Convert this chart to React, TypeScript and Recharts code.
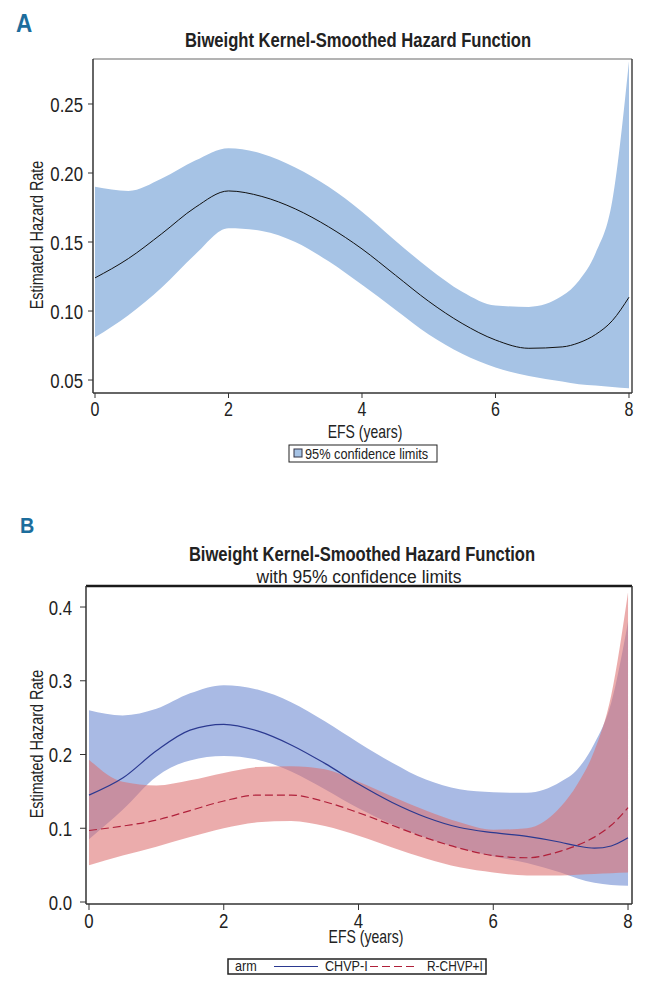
import React from 'react';
import { ComposedChart, Area, Line, XAxis, YAxis, ReferenceLine } from 'recharts';

// EFS (years) grid
const years = [0, 0.5, 1, 1.5, 2, 2.5, 3, 3.5, 4, 4.5, 5, 5.5, 6, 6.5, 7, 7.25, 7.5, 7.75, 8];

// Panel A: overall hazard with 95% CI
const hazardA = [0.124, 0.138, 0.156, 0.175, 0.187, 0.183, 0.174, 0.161, 0.145, 0.126, 0.107, 0.091, 0.079, 0.073, 0.074, 0.077, 0.083, 0.093, 0.110];
const lowerA = [0.081, 0.097, 0.117, 0.141, 0.160, 0.158, 0.150, 0.136, 0.119, 0.101, 0.083, 0.069, 0.059, 0.053, 0.049, 0.047, 0.046, 0.045, 0.044];
const upperA = [0.190, 0.187, 0.196, 0.209, 0.218, 0.214, 0.204, 0.190, 0.172, 0.151, 0.131, 0.114, 0.104, 0.103, 0.111, 0.122, 0.142, 0.180, 0.281];

// Panel B: by arm
const chvpHazard = [0.145, 0.168, 0.205, 0.233, 0.241, 0.232, 0.213, 0.188, 0.160, 0.135, 0.115, 0.101, 0.094, 0.089, 0.081, 0.076, 0.073, 0.076, 0.087];
const chvpLower = [0.085, 0.125, 0.170, 0.192, 0.198, 0.193, 0.177, 0.153, 0.127, 0.105, 0.087, 0.073, 0.062, 0.053, 0.040, 0.032, 0.026, 0.023, 0.022];
const chvpUpper = [0.260, 0.253, 0.262, 0.283, 0.294, 0.288, 0.271, 0.245, 0.216, 0.189, 0.166, 0.153, 0.149, 0.148, 0.163, 0.180, 0.215, 0.270, 0.380];
const rchvpHazard = [0.097, 0.103, 0.111, 0.124, 0.137, 0.145, 0.145, 0.136, 0.121, 0.104, 0.087, 0.073, 0.063, 0.060, 0.069, 0.077, 0.088, 0.104, 0.128];
const rchvpLower = [0.050, 0.063, 0.075, 0.088, 0.100, 0.108, 0.110, 0.103, 0.090, 0.074, 0.059, 0.047, 0.040, 0.036, 0.036, 0.037, 0.038, 0.039, 0.040];
const rchvpUpper = [0.193, 0.163, 0.158, 0.165, 0.175, 0.183, 0.184, 0.180, 0.163, 0.143, 0.124, 0.108, 0.098, 0.100, 0.129, 0.160, 0.205, 0.280, 0.420];

const xTicks = [0, 2, 4, 6, 8];
const yTicksA = [0.05, 0.1, 0.15, 0.2, 0.25];
const yTicksB = [0, 0.1, 0.2, 0.3, 0.4];

const dataA = years.map((x, i) => ({ x, h: hazardA[i], band: [lowerA[i], upperA[i]] }));
const dataB = years.map((x, i) => ({
  x,
  c: chvpHazard[i],
  cBand: [chvpLower[i], chvpUpper[i]],
  r: rchvpHazard[i],
  rBand: [rchvpLower[i], rchvpUpper[i]],
}));

const FONT = '"Liberation Sans", Arial, Helvetica, sans-serif';
const TXT = '#222';

const makeYTick = (dec: number) => (props: any) => {
  const { x, y, payload } = props;
  return (
    <text transform={`translate(${x},${y}) scale(0.8,1)`} textAnchor="end" dy="0.36em" fontSize={21} fontFamily={FONT} fill={TXT}>
      {Number(payload.value).toFixed(dec)}
    </text>
  );
};
const makeXTick = (fs: number) => (props: any) => {
  const { x, y, payload } = props;
  return (
    <text transform={`translate(${x},${y}) scale(0.8,1)`} textAnchor="middle" dy="0.71em" fontSize={fs} fontFamily={FONT} fill={TXT}>
      {String(payload.value)}
    </text>
  );
};

const YTickA = makeYTick(2);
const YTickB = makeYTick(1);
const XTickA = makeXTick(20);
const XTickB = makeXTick(21);

export default function App() {
  return (
    <div style={{ position: 'absolute', left: 0, top: 0, width: 645, height: 983, background: '#fff' }}>
      <div style={{ position: 'absolute', left: 0, top: 0 }}>
        <ComposedChart width={645} height={480} data={dataA} margin={{ top: 59, right: 13, left: 0, bottom: 57 }}>
          <XAxis dataKey="x" type="number" domain={[-0.03, 8.045]} ticks={xTicks} interval={0} allowDataOverflow
            height={30} tickSize={5} tickMargin={4} tick={XTickA}
            axisLine={{ stroke: '#333', strokeWidth: 1.5 }} tickLine={{ stroke: '#333' }} />
          <YAxis type="number" domain={[0.0406, 0.2826]} ticks={yTicksA} interval={0} allowDataOverflow
            width={93} tickSize={5} tickMargin={5} tick={YTickA}
            axisLine={{ stroke: '#333', strokeWidth: 1.5 }} tickLine={{ stroke: '#333' }} />
          <Area dataKey="band" type="monotone" stroke="none" fill="#a6c3e5" fillOpacity={1} isAnimationActive={false} activeDot={false} />
          <Line dataKey="h" type="monotone" stroke="#111" strokeWidth={1} dot={false} activeDot={false} isAnimationActive={false} />
          <ReferenceLine y={0.2826} stroke="#9a9a9a" strokeWidth={1.5} ifOverflow="visible" />
          <ReferenceLine x={8.045} stroke="#444" strokeWidth={1.5} ifOverflow="visible" />
        </ComposedChart>
      </div>
      <div style={{ position: 'absolute', left: 0, top: 500 }}>
        <ComposedChart width={645} height={480} data={dataB} margin={{ top: 86, right: 13, left: 0, bottom: 46 }}>
          <XAxis dataKey="x" type="number" domain={[-0.0445, 8.059]} ticks={xTicks} interval={0} allowDataOverflow
            height={30} tickSize={6} tickMargin={3} tick={XTickB}
            axisLine={{ stroke: '#333', strokeWidth: 1.5 }} tickLine={{ stroke: '#333' }} />
          <YAxis type="number" domain={[-0.0027, 0.4285]} ticks={yTicksB} interval={0} allowDataOverflow
            width={86} tickSize={6} tickMargin={8} tick={YTickB}
            axisLine={{ stroke: '#333', strokeWidth: 1.5 }} tickLine={{ stroke: '#333' }} />
          <Area dataKey="cBand" type="monotone" stroke="none" fill="#a9bae4" fillOpacity={1} isAnimationActive={false} activeDot={false} />
          <Area dataKey="rBand" type="monotone" stroke="none" fill="#dc7070" fillOpacity={0.58} isAnimationActive={false} activeDot={false} />
          <Line dataKey="c" type="monotone" stroke="#2b3990" strokeWidth={1.2} dot={false} activeDot={false} isAnimationActive={false} />
          <Line dataKey="r" type="monotone" stroke="#b0203a" strokeWidth={1.2} strokeDasharray="8 4" dot={false} activeDot={false} isAnimationActive={false} />
          <ReferenceLine y={0.4285} stroke="#1a1a1a" strokeWidth={2.5} ifOverflow="visible" />
          <ReferenceLine x={8.059} stroke="#333" strokeWidth={1.5} ifOverflow="visible" />
        </ComposedChart>
      </div>
      <svg width={645} height={983} style={{ position: 'absolute', left: 0, top: 0, pointerEvents: 'none' }} fontFamily={FONT}>
        <text transform="translate(16,32) scale(0.9,1)" fontSize={25} fontWeight="bold" fill="#1c6d9c">A</text>
        <text transform="translate(358,47) scale(0.79,1)" textAnchor="middle" fontSize={21} fontWeight="bold" fill={TXT}>Biweight Kernel-Smoothed Hazard Function</text>
        <text transform="translate(43,235) rotate(-90) scale(0.8,1)" textAnchor="middle" fontSize={18} fill={TXT}>Estimated Hazard Rate</text>
        <text transform="translate(365,438) scale(0.8,1)" textAnchor="middle" fontSize={17.5} fill={TXT}>EFS (years)</text>
        <rect x={289} y={445} width={148} height={17} fill="#fff" stroke="#222" strokeWidth={1} />
        <rect x={294} y={449} width={8} height={8} fill="#a6c3e5" stroke="#334" strokeWidth={1} />
        <text transform="translate(305,458.5) scale(0.85,1)" fontSize={15} fill={TXT}>95% confidence limits</text>

        <text transform="translate(20,533) scale(0.9,1)" fontSize={22} fontWeight="bold" fill="#1c6d9c">B</text>
        <text transform="translate(362,561) scale(0.79,1)" textAnchor="middle" fontSize={21} fontWeight="bold" fill={TXT}>Biweight Kernel-Smoothed Hazard Function</text>
        <text transform="translate(359,583) scale(0.92,1)" textAnchor="middle" fontSize={19} fill={TXT}>with 95% confidence limits</text>
        <text transform="translate(43,744) rotate(-90) scale(0.8,1)" textAnchor="middle" fontSize={18} fill={TXT}>Estimated Hazard Rate</text>
        <text transform="translate(366,943) scale(0.78,1)" textAnchor="middle" fontSize={18} fill={TXT}>EFS (years)</text>
        <rect x={228} y={959} width={258} height={15} fill="#fff" stroke="#222" strokeWidth={1.5} />
        <text transform="translate(235,971) scale(0.9,1)" fontSize={14} fill={TXT}>arm</text>
        <line x1={274} y1={966.5} x2={318} y2={966.5} stroke="#2b3990" strokeWidth={1.2} />
        <text transform="translate(325,971) scale(0.9,1)" fontSize={14} fill={TXT}>CHVP-I</text>
        <line x1={370} y1={966.5} x2={416} y2={966.5} stroke="#b0203a" strokeWidth={1.2} strokeDasharray="8 4" />
        <text transform="translate(427,971) scale(0.85,1)" fontSize={14} fill={TXT}>R-CHVP+I</text>
      </svg>
    </div>
  );
}
